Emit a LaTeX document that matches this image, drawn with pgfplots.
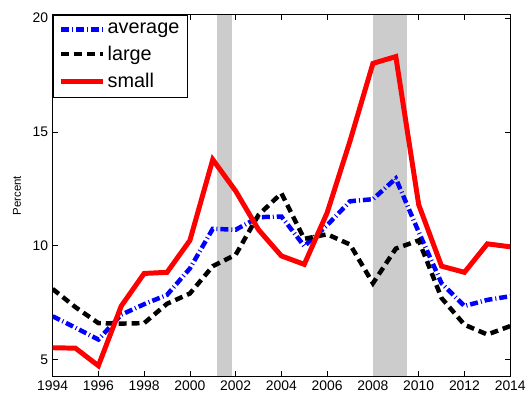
\documentclass[border=0pt]{standalone}
\usepackage{pgfplots}
\pgfplotsset{compat=1.18}
\usepackage{pgfplotstable}
\usepackage{fontspec}
\setmainfont{Liberation Sans}
\pgfplotstableread{
year avg large small
1994 6.90 8.10 5.52
1995 6.40 7.30 5.50
1996 5.88 6.60 4.73
1997 6.97 6.58 7.35
1998 7.43 6.60 8.78
1999 7.84 7.45 8.83
2000 9.00 7.90 10.23
2001 10.74 9.10 13.78
2002 10.70 9.60 12.40
2003 11.25 11.35 10.70
2004 11.28 12.30 9.55
2005 9.98 10.30 9.18
2006 10.90 10.50 11.45
2007 11.95 10.05 14.60
2008 12.04 8.35 18.00
2009 12.95 9.87 18.30
2010 10.60 10.23 11.80
2011 8.35 7.70 9.10
2012 7.35 6.53 8.83
2013 7.62 6.10 10.08
2014 7.78 6.47 9.95
}\datatable
\begin{document}
\begin{tikzpicture}
\begin{axis}[
  at={(0,0)}, anchor=south west,
  scale only axis, width=461pt, height=364pt,
  xmin=1994, xmax=2014, ymin=4.27, ymax=20.13,
  xtick={1994,1996,...,2014}, ytick={5,10,15,20},
  tick align=inside, major tick length=5pt,
  tick style={black, line width=0.5pt},
  axis line style={black, line width=0.8pt},
  /pgf/number format/assume math mode=true,
  xticklabel style={/pgf/number format/1000 sep={}, font=\fontsize{14}{16}\selectfont, yshift=-1pt},
  yticklabel style={font=\fontsize{14}{16}\selectfont, xshift=-1pt},
  ylabel={Percent},
  ylabel style={at={(axis description cs:-0.078,0.5)}, anchor=center, font=\fontsize{11.5}{13}\selectfont},
  legend style={at={(0,1)}, anchor=north west, draw=black, line width=0.8pt,
    font=\fontsize{20}{23}\selectfont, row sep=7pt, inner xsep=6pt, inner ysep=6pt},
  legend cell align=left,
  legend image code/.code={\draw[#1] (0pt,0pt) -- (42pt,0pt);},
  clip=true,
]
\addplot[fill=gray!40, draw=none, forget plot] coordinates {(2001.17,4.27) (2001.83,4.27) (2001.83,20.13) (2001.17,20.13)} -- cycle;
\addplot[fill=gray!40, draw=none, forget plot] coordinates {(2008.0,4.27) (2009.5,4.27) (2009.5,20.13) (2008.0,20.13)} -- cycle;
\addplot[blue, line width=4.5pt, dash pattern=on 8pt off 3pt on 1pt off 3pt] table[x=year, y=avg] {\datatable};
\addlegendentry{average}
\addplot[black, line width=4.5pt, dash pattern=on 8pt off 5pt] table[x=year, y=large] {\datatable};
\addlegendentry{large}
\addplot[red, line width=5pt, line join=miter] table[x=year, y=small] {\datatable};
\addlegendentry{small}
\end{axis}
\useasboundingbox (-53pt,-18pt) rectangle (476pt,379pt);
\end{tikzpicture}
\end{document}
